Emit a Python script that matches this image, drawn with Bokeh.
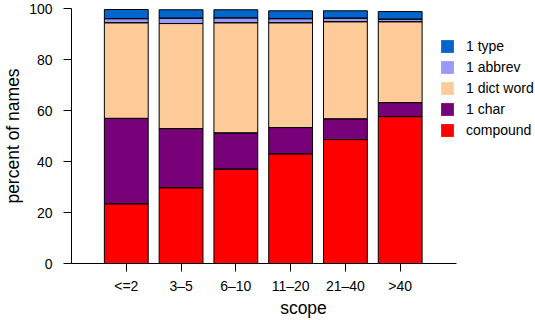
from bokeh.plotting import figure
from bokeh.models import ColumnDataSource, Range1d, FixedTicker, Legend, LegendItem
from bokeh.embed import file_html
from bokeh.resources import INLINE

scopes = ["<=2", "3\u20135", "6\u201310", "11\u201320", "21\u201340", ">40"]
series = ["compound", "1 char", "1 dict word", "1 abbrev", "1 type"]
compound = [23.4, 29.7, 37.0, 43.0, 48.6, 57.6]
one_char = [33.5, 23.2, 14.2, 10.3, 8.1, 5.5]
dict_word = [37.5, 41.2, 43.2, 41.1, 38.1, 31.7]
abbrev = [1.6, 2.1, 1.9, 1.6, 1.4, 1.0]
one_type = [3.6, 3.3, 3.2, 3.1, 2.9, 3.0]
colors = ["#FF0000", "#780078", "#FFCC99", "#9999FF", "#0066CC"]
yticks = [0, 20, 40, 60, 80, 100]

FONT = "Liberation Sans"

xpos = list(range(1, len(scopes) + 1))
src = ColumnDataSource(dict(x=xpos, compound=compound, one_char=one_char,
                            dict_word=dict_word, abbrev=abbrev, one_type=one_type))
keys = ["compound", "one_char", "dict_word", "abbrev", "one_type"]

p = figure(width=535, height=320, output_backend="svg", toolbar_location=None,
           x_range=Range1d(0, 8.47), y_range=Range1d(0, 100),
           min_border_left=71, min_border_right=0, min_border_top=8, min_border_bottom=57)
p.outline_line_color = None
p.grid.visible = False
p.background_fill_color = "white"
p.border_fill_color = "white"

# fills (used for the legend) and black outlines drawn on top
fills = p.vbar_stack(keys, x="x", width=0.8, source=src, fill_color=colors,
                     line_alpha=0)
p.vbar_stack(keys, x="x", width=0.8, source=src, fill_alpha=0,
             line_color="black", line_width=1)

items = [LegendItem(label=name, renderers=[r])
         for name, r in reversed(list(zip(series, fills)))]
legend = Legend(items=items, location=(368, 125), padding=0, margin=0, spacing=5,
                glyph_width=16, glyph_height=16, label_height=16, label_standoff=11,
                border_line_color=None, background_fill_alpha=0,
                label_text_font=FONT, label_text_font_size="14px", label_text_color="black")
p.add_layout(legend)

xa = p.xaxis[0]
xa.bounds = (0, 7.03)
xa.ticker = FixedTicker(ticks=xpos)
xa.major_label_overrides = {i: s for i, s in zip(xpos, scopes)}
xa.minor_tick_line_color = None
xa.major_tick_in = 0
xa.major_tick_out = 8
xa.major_label_standoff = 6
xa.axis_label = "scope"
xa.axis_label_standoff = 1

ya = p.yaxis[0]
ya.ticker = FixedTicker(ticks=yticks)
ya.minor_tick_line_color = None
ya.major_tick_in = 0
ya.major_tick_out = 8
ya.major_label_standoff = 11
ya.axis_label = "percent of names"
ya.axis_label_standoff = 3

for ax in (xa, ya):
    ax.axis_line_color = "black"
    ax.major_tick_line_color = "black"
    ax.major_label_text_font = FONT
    ax.major_label_text_font_size = "14px"
    ax.major_label_text_color = "black"
    ax.axis_label_text_font = FONT
    ax.axis_label_text_font_size = "17.5px"
    ax.axis_label_text_font_style = "normal"
    ax.axis_label_text_color = "black"

open("out.html", "w").write(file_html(p, INLINE))
